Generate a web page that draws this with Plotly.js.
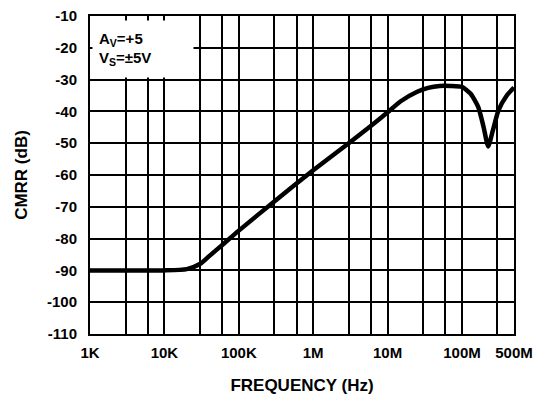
<!DOCTYPE html>
<html>
<head>
<meta charset="utf-8">
<script src="https://cdn.plot.ly/plotly-3.0.1.min.js"></script>
<style>html,body{margin:0;padding:0;background:#fff;}#chart{width:548px;height:399px;}</style>
</head>
<body>
<div id="chart"></div>
<script>
// Data
const freqHz = [1e3, 1e4, 2e4, 3e4, 4e4, 6e4, 1e5, 3e5, 1e6, 3e6, 6e6, 1e7, 1.5e7, 2.5e7, 3.5e7, 5e7, 7e7, 1e8, 1.3e8, 1.65e8, 1.95e8, 2.25e8, 2.6e8, 3.1e8, 4e8, 5e8];
const cmrrDb = [-90, -90, -89.6, -88, -85.5, -82, -77.5, -68.3, -58.5, -50, -44.5, -40.3, -36.8, -33.8, -32.6, -32, -32, -32.3, -34.4, -38.6, -44.9, -51, -46, -39.6, -35, -32.5];
const xTickVals = [1e3, 1e4, 1e5, 1e6, 1e7, 1e8, 5e8];
const xTickText = ['1K', '10K', '100K', '1M', '10M', '100M', '500M'];
const xMinorVals = [3e3, 6e3, 3e4, 6e4, 3e5, 6e5, 3e6, 6e6, 3e7, 6e7, 3e8];
const yTickVals = [-110, -100, -90, -80, -70, -60, -50, -40, -30, -20, -10];
const yTickText = ['-110', '-100', '-90', '-80', '-70', '-60', '-50', '-40', '-30', '-20', '-10'];
const noteText = 'A<sub>V</sub>=+5<br>V<sub>S</sub>=±5V';

const fontFam = 'Liberation Sans, Arial, sans-serif';
const trace = {
  x: freqHz, y: cmrrDb, type: 'scatter', mode: 'lines',
  line: {color: '#000', width: 4.5, shape: 'spline', smoothing: 0.6},
  hoverinfo: 'skip'
};
const layout = {
  width: 548, height: 399,
  margin: {l: 90, r: 34, t: 16, b: 65},
  paper_bgcolor: '#fff', plot_bgcolor: '#fff',
  showlegend: false,
  font: {family: fontFam, size: 15, color: '#000', weight: 'bold'},
  xaxis: {
    type: 'log', range: [3, Math.log10(5e8)],
    tickmode: 'array', tickvals: xTickVals, ticktext: xTickText,
    showgrid: true, gridcolor: '#000', gridwidth: 2,
    showline: true, linecolor: '#000', linewidth: 2, mirror: true,
    ticks: '', ticklen: 0, ticklabelstandoff: 4,
    tickfont: {family: fontFam, size: 15, color: '#000', weight: 'bold'},
    minor: {tickmode: 'array', tickvals: xMinorVals, showgrid: true, gridcolor: '#000', gridwidth: 2, ticks: ''},
    title: {text: 'FREQUENCY (Hz)', font: {family: fontFam, size: 17, color: '#000', weight: 'bold'}, standoff: 19},
    zeroline: false, fixedrange: true
  },
  yaxis: {
    range: [-110, -10],
    tickmode: 'array', tickvals: yTickVals, ticktext: yTickText,
    showgrid: true, gridcolor: '#000', gridwidth: 2,
    showline: true, linecolor: '#000', linewidth: 2, mirror: true,
    ticks: '', ticklen: 0, ticklabelstandoff: 8,
    tickfont: {family: fontFam, size: 15, color: '#000', weight: 'bold'},
    title: {text: 'CMRR (dB)', font: {family: fontFam, size: 17, color: '#000', weight: 'bold'}, standoff: 15},
    zeroline: false, fixedrange: true
  },
  annotations: [{
    xref: 'paper', yref: 'paper', x: 0, y: 1,
    xanchor: 'left', yanchor: 'top', xshift: 2, yshift: -4,
    text: noteText, showarrow: false, align: 'left', valign: 'middle',
    bgcolor: '#fff', width: 88, height: 44, borderpad: 6,
    font: {family: fontFam, size: 15, color: '#000', weight: 'bold'}
  }]
};
Plotly.newPlot('chart', [trace], layout, {staticPlot: true, displayModeBar: false});
</script>
</body>
</html>
